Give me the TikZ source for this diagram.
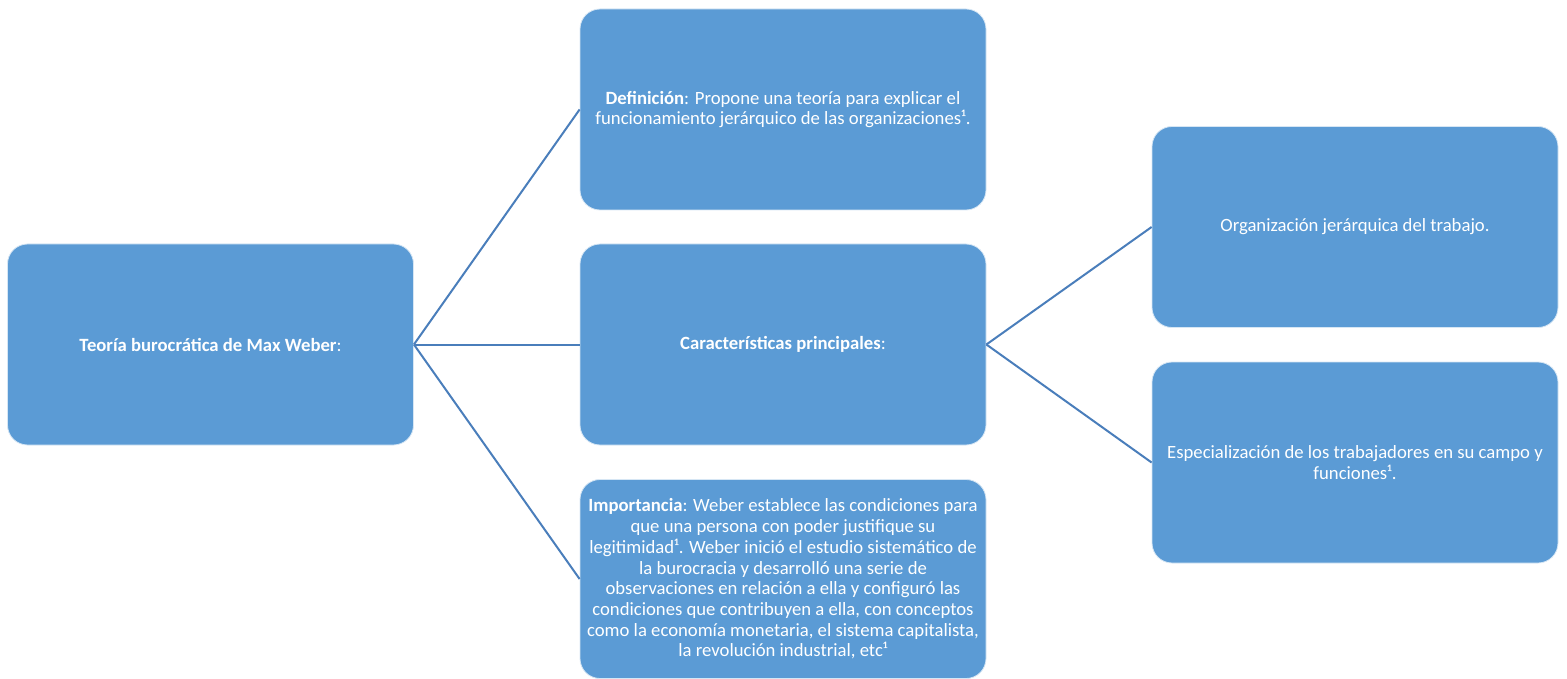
\documentclass[tikz,border=0pt]{standalone}
\usepackage{fontspec}
\setmainfont{Carlito}
\definecolor{boxfill}{HTML}{5B9BD5}
\definecolor{linkcol}{HTML}{4A7EBB}
\begin{document}
\begin{tikzpicture}[x=1pt,y=-1pt,
  box/.style={rectangle, rounded corners=20pt, fill=boxfill, draw=white!75!boxfill, line width=0.8pt,
    minimum width=406pt, minimum height=201pt, inner sep=0pt, align=center, text=white,
    font=\fontsize{18.7pt}{20.7pt}\selectfont},
  link/.style={draw=linkcol, line width=2pt}]
\useasboundingbox (0,0) rectangle (1567,679);
\node[box] (root) at (210.5,344.5) {\textbf{Teoría burocrática de Max Weber}:};
\node[box] (def) at (783,109.5) {\textbf{Definición}: Propone una teoría para explicar el\\funcionamiento jerárquico de las organizaciones¹.};
\node[box] (car) at (783,344.5) {\textbf{Características principales}:};
\node[box, minimum height=199pt] (imp) at (783,579) {\textbf{Importancia}: Weber establece las condiciones para\\que una persona con poder justifique su\\legitimidad¹. Weber inició el estudio sistemático de\\la burocracia y desarrolló una serie de\\observaciones en relación a ella y configuró las\\condiciones que contribuyen a ella, con conceptos\\como la economía monetaria, el sistema capitalista,\\la revolución industrial, etc¹};
\node[box] (org) at (1355,227) {Organización jerárquica del trabajo.};
\node[box] (esp) at (1355,462.5) {Especialización de los trabajadores en su campo y\\funciones¹.};
\draw[link] (root.east) -- (def.west);
\draw[link] (root.east) -- (car.west);
\draw[link] (root.east) -- (imp.west);
\draw[link] (car.east) -- (org.west);
\draw[link] (car.east) -- (esp.west);
\end{tikzpicture}
\end{document}
